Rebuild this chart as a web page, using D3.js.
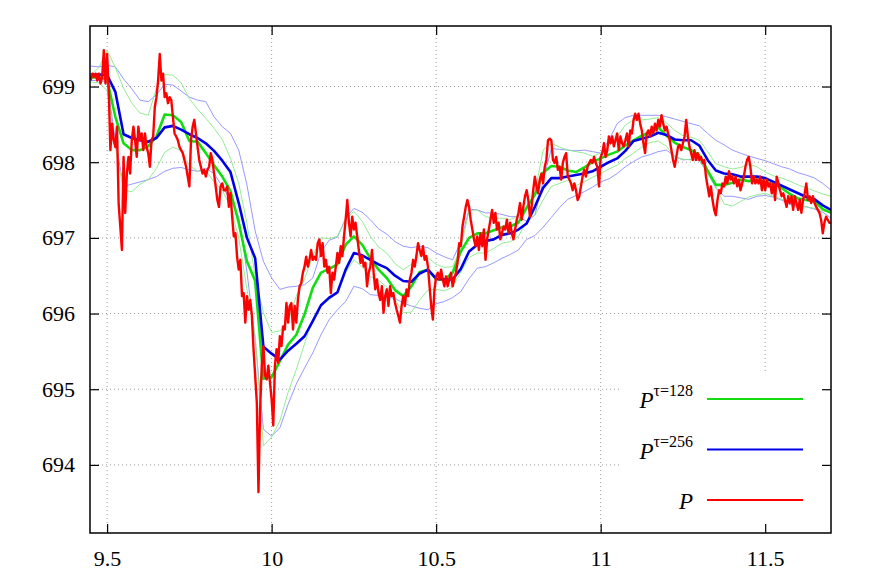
<!DOCTYPE html>
<html>
<head>
<meta charset="utf-8">
<script src="https://cdn.jsdelivr.net/npm/d3@7.9.0/dist/d3.min.js"></script>
<style>
  body { margin: 0; background: #fff; }
  svg { display: block; }
  svg text { font-family: "Liberation Serif", "DejaVu Serif", serif; }
</style>
</head>
<body>
<svg id="chart" width="872" height="580"></svg>
<script>
// tick values
const xTicks = [9.5, 10, 10.5, 11, 11.5];
const yTicks = [694, 695, 696, 697, 698, 699];

// price P, one value every 0.005 from 9.45
const priceStart = 9.45, priceStep = 0.005;
const price = [
  699.08, 699.17, 699.13, 699.17, 699.08, 699.17, 699.04, 699.13, 699.48, 699.04,
  699.43, 698.95, 698.16, 698.51, 698.29, 698.20, 698.47, 697.46, 697.15, 696.84,
  698.07, 697.33, 697.85, 698.07, 697.85, 698.29, 698.47, 698.29, 698.07, 698.47,
  698.29, 698.38, 698.16, 698.38, 698.20, 698.12, 697.94, 698.29, 698.34, 698.73,
  698.86, 699.08, 699.43, 699.08, 699.17, 698.86, 698.91, 698.78, 698.86, 698.82,
  698.60, 698.38, 698.34, 698.29, 698.20, 698.16, 698.12, 698.03, 697.94, 697.81,
  697.68, 698.29, 698.47, 698.56, 698.38, 698.20, 698.03, 697.94, 697.85, 697.90,
  697.81, 697.90, 697.94, 698.12, 698.03, 697.85, 697.68, 697.50, 697.41, 697.68,
  697.72, 697.63, 697.63, 697.68, 697.41, 697.59, 697.28, 697.02, 697.06, 696.75,
  696.58, 696.71, 696.23, 696.27, 695.88, 696.23, 696.05, 696.18, 695.97, 695.53,
  695.18, 694.82, 693.64, 694.74, 695.31, 695.57, 695.18, 695.13, 695.31, 695.09,
  694.87, 694.52, 695.31, 695.53, 695.35, 695.70, 695.57, 695.83, 695.79, 696.14,
  695.88, 696.10, 696.14, 695.79, 696.10, 695.88, 696.19, 696.36, 696.40, 696.54,
  696.62, 696.75, 696.62, 696.71, 696.84, 696.71, 696.75, 696.71, 696.93, 696.98,
  696.76, 696.93, 696.62, 696.71, 696.54, 696.62, 696.27, 696.54, 696.45, 696.62,
  696.80, 696.67, 696.89, 696.76, 697.02, 697.24, 697.50, 697.20, 697.02, 697.28,
  697.11, 697.20, 697.02, 696.84, 696.67, 696.76, 696.62, 696.67, 696.36, 696.54,
  696.62, 696.84, 696.54, 696.32, 696.45, 696.27, 696.18, 696.36, 696.01, 696.23,
  696.32, 696.10, 696.36, 696.23, 696.27, 696.14, 696.05, 695.97, 695.88, 696.10,
  696.23, 696.10, 696.32, 696.23, 696.45, 696.54, 696.71, 696.62, 696.76, 696.93,
  696.84, 696.76, 696.89, 696.71, 696.76, 696.62, 696.36, 696.10, 695.92, 696.32,
  696.49, 696.54, 696.45, 696.58, 696.45, 696.36, 696.49, 696.36, 696.45, 696.54,
  696.36, 696.45, 696.54, 696.67, 696.93, 696.89, 697.15, 697.28, 697.41, 697.50,
  697.41, 697.24, 697.11, 696.98, 696.89, 697.02, 696.84, 697.06, 696.89, 697.11,
  696.71, 696.98, 697.11, 697.24, 697.37, 697.20, 697.33, 697.11, 697.20, 696.98,
  697.06, 697.15, 697.11, 697.24, 697.06, 697.20, 697.06, 696.98, 697.11, 697.24,
  697.33, 697.46, 697.24, 697.41, 697.55, 697.63, 697.50, 697.28, 697.41, 697.63,
  697.81, 697.68, 697.59, 697.77, 697.85, 697.72, 697.94, 698.03, 698.29, 698.31,
  698.29, 698.03, 697.99, 698.07, 697.90, 697.94, 697.77, 697.99, 698.07, 698.12,
  697.81, 697.77, 697.72, 697.63, 697.72, 697.63, 697.50, 697.55, 697.68, 697.81,
  697.90, 697.81, 697.94, 697.99, 698.03, 697.99, 698.07, 697.99, 697.94, 697.68,
  698.07, 698.12, 698.25, 698.07, 698.16, 698.34, 698.25, 698.34, 698.21, 698.29,
  698.38, 698.16, 698.34, 698.25, 698.21, 698.29, 698.38, 698.21, 698.42, 698.38,
  698.56, 698.64, 698.56, 698.64, 698.51, 698.42, 698.25, 698.12, 698.38, 698.42,
  698.34, 698.47, 698.38, 698.51, 698.42, 698.56, 698.47, 698.62, 698.51, 698.42,
  698.47, 698.38, 698.29, 698.16, 698.03, 697.94, 698.07, 698.20, 698.23, 698.16,
  698.25, 698.34, 698.56, 698.34, 698.20, 698.12, 698.03, 698.16, 698.03, 698.12,
  698.03, 698.07, 697.99, 698.03, 697.81, 697.68, 697.55, 697.68, 697.50, 697.37,
  697.30, 697.50, 697.63, 697.59, 697.72, 697.68, 697.81, 697.72, 697.88, 697.77,
  697.81, 697.72, 697.81, 697.68, 697.77, 697.63, 697.72, 697.81, 697.94, 698.03,
  698.07, 697.94, 697.72, 697.81, 697.72, 697.77, 697.72, 697.81, 697.63, 697.77,
  697.63, 697.77, 697.68, 697.72, 697.59, 697.72, 697.50, 697.81, 697.72, 697.63,
  697.55, 697.59, 697.50, 697.41, 697.55, 697.46, 697.55, 697.37, 697.55, 697.46,
  697.37, 697.50, 697.33, 697.50, 697.59, 697.72, 697.50, 697.55, 697.46, 697.55,
  697.46, 697.41, 697.37, 697.33, 697.24, 697.06, 697.20, 697.28, 697.24, 697.20,
  697.20
];

// averages and bands, one value every 0.025 from 9.45
const avgStart = 9.45, avgStep = 0.025;
const ema128 = [
  699.12, 699.12, 699.09, 698.60, 698.25, 698.16, 698.16, 698.21, 698.34, 698.63,
  698.62, 698.53, 698.28, 698.27, 698.12, 697.96, 697.81, 697.62, 697.20, 696.69,
  696.43, 695.14, 695.16, 695.37, 695.59, 695.72, 695.99, 696.34, 696.54, 696.59,
  696.65, 696.91, 697.02, 696.91, 696.73, 696.58, 696.47, 696.31, 696.23, 696.36,
  696.55, 696.58, 696.45, 696.45, 696.54, 696.82, 697.00, 697.06, 697.06, 697.10,
  697.14, 697.15, 697.20, 697.40, 697.57, 697.86, 697.95, 697.94, 697.89, 697.87,
  697.93, 698.00, 698.05, 698.10, 698.14, 698.22, 698.29, 698.35, 698.40, 698.46,
  698.35, 698.26, 698.20, 698.16, 698.09, 697.89, 697.70, 697.70, 697.73, 697.77,
  697.75, 697.77, 697.74, 697.71, 697.66, 697.58, 697.52, 697.50, 697.48, 697.38,
  697.33
];
const ema256 = [
  699.16, 699.16, 699.15, 698.93, 698.37, 698.32, 698.29, 698.27, 698.32, 698.46,
  698.48, 698.43, 698.37, 698.32, 698.25, 698.15, 698.02, 697.87, 697.46, 697.00,
  696.73, 695.56, 695.47, 695.39, 695.51, 695.60, 695.70, 695.90, 696.11, 696.21,
  696.28, 696.58, 696.80, 696.77, 696.71, 696.65, 696.60, 696.50, 696.43, 696.42,
  696.53, 696.58, 696.46, 696.45, 696.45, 696.59, 696.82, 696.91, 696.96, 696.98,
  697.04, 697.06, 697.11, 697.19, 697.41, 697.66, 697.79, 697.79, 697.81, 697.83,
  697.85, 697.88, 697.94, 698.00, 698.05, 698.15, 698.28, 698.31, 698.34, 698.39,
  698.36, 698.30, 698.29, 698.29, 698.22, 698.03, 697.89, 697.85, 697.84, 697.81,
  697.81, 697.81, 697.79, 697.74, 697.69, 697.64, 697.59, 697.54, 697.51, 697.43,
  697.37
];
const upper128 = [
  699.15, 699.25, 699.48, 699.25, 698.98, 698.78, 698.65, 698.62, 698.98, 699.16,
  699.15, 699.05, 698.84, 698.70, 698.58, 698.45, 698.30, 698.05, 697.72, 697.19,
  696.49, 696.01, 695.75, 695.77, 695.90, 696.23, 696.46, 696.76, 697.00, 696.99,
  697.02, 697.24, 697.35, 697.22, 697.02, 696.88, 696.80, 696.66, 696.58, 696.65,
  696.78, 696.74, 696.65, 696.61, 696.62, 696.87, 697.36, 697.37, 697.28, 697.26,
  697.26, 697.24, 697.29, 697.37, 697.59, 698.16, 698.25, 698.20, 698.16, 698.14,
  698.12, 698.08, 698.12, 698.21, 698.34, 698.49, 698.56, 698.56, 698.57, 698.59,
  698.52, 698.42, 698.35, 698.33, 698.29, 698.14, 697.98, 697.94, 697.91, 697.93,
  697.97, 697.94, 697.87, 697.82, 697.79, 697.75, 697.70, 697.66, 697.62, 697.58,
  697.55
];
const lower128 = [
  699.06, 699.05, 698.95, 698.20, 697.63, 697.61, 697.71, 697.77, 697.92, 698.13,
  698.20, 698.15, 697.96, 697.88, 697.89, 697.74, 697.63, 697.41, 697.00, 696.32,
  695.70, 694.25, 694.37, 694.58, 694.96, 695.26, 695.60, 695.93, 696.12, 696.18,
  696.27, 696.54, 696.71, 696.62, 696.49, 696.44, 696.35, 696.18, 696.01, 696.02,
  696.18, 696.31, 696.32, 696.30, 696.35, 696.55, 696.74, 696.80, 696.80, 696.86,
  696.93, 696.95, 697.02, 697.22, 697.30, 697.50, 697.68, 697.72, 697.76, 697.69,
  697.74, 697.80, 697.85, 697.91, 697.96, 698.05, 698.12, 698.20, 698.26, 698.28,
  698.21, 698.07, 698.04, 698.03, 698.03, 697.85, 697.68, 697.45, 697.42, 697.48,
  697.54, 697.57, 697.59, 697.55, 697.51, 697.47, 697.42, 697.41, 697.39, 697.36,
  697.33
];
const upper256 = [
  699.27, 699.26, 699.28, 699.26, 699.10, 698.97, 698.82, 698.80, 698.89, 699.03,
  699.02, 698.94, 698.86, 698.82, 698.80, 698.60, 698.47, 698.38, 698.16, 697.70,
  697.09, 696.69, 696.47, 696.32, 696.35, 696.36, 696.38, 696.47, 696.81, 696.97,
  697.01, 697.26, 697.39, 697.34, 697.24, 697.12, 697.05, 696.95, 696.89, 696.87,
  696.89, 696.87, 696.80, 696.75, 696.71, 696.95, 697.38, 697.37, 697.33, 697.33,
  697.31, 697.28, 697.28, 697.22, 697.30, 697.75, 698.18, 698.17, 698.16, 698.15,
  698.16, 698.14, 698.12, 698.29, 698.51, 698.59, 698.62, 698.62, 698.62, 698.62,
  698.60, 698.57, 698.54, 698.51, 698.48, 698.38, 698.29, 698.23, 698.16, 698.12,
  698.08, 698.05, 698.02, 697.98, 697.94, 697.91, 697.86, 697.83, 697.79, 697.72,
  697.63
];
const lower256 = [
  699.08, 699.08, 699.06, 698.29, 697.68, 697.71, 697.74, 697.77, 697.81, 697.88,
  697.92, 697.93, 697.90, 697.88, 697.92, 697.85, 697.68, 697.50, 697.28, 696.55,
  695.66, 694.47, 694.38, 694.49, 694.80, 695.07, 695.28, 695.48, 695.72, 695.92,
  696.05, 696.16, 696.36, 696.33, 696.25, 696.24, 696.22, 696.20, 696.14, 696.10,
  696.07, 696.05, 696.13, 696.16, 696.21, 696.29, 696.46, 696.60, 696.62, 696.67,
  696.73, 696.78, 696.84, 696.98, 697.03, 697.14, 697.27, 697.40, 697.51, 697.56,
  697.61, 697.67, 697.74, 697.78, 697.85, 697.94, 698.01, 698.07, 698.10, 698.14,
  698.16, 698.08, 698.03, 698.04, 698.02, 697.86, 697.66, 697.55, 697.55, 697.53,
  697.51, 697.55, 697.56, 697.54, 697.50, 697.44, 697.42, 697.41, 697.38, 697.34,
  697.26
];

const W = 872, H = 580;
const margin = { top: 26, right: 41, bottom: 47, left: 90 };

const svg = d3.select('#chart');

let x = d3.scaleLinear().domain([9.448, 11.7]).range([margin.left, W - margin.right]);
let y = d3.scaleLinear().domain([693.1, 699.8]).range([H - margin.bottom, margin.top]);

// dotted grid
let grid = svg.append('g')
  .attr('stroke', '#9a9a9a')
  .attr('stroke-width', 1)
  .attr('stroke-dasharray', '1,3');
xTicks.forEach(t => {
  grid.append('line')
    .attr('x1', x(t)).attr('x2', x(t))
    .attr('y1', margin.top).attr('y2', H - margin.bottom);
});
yTicks.forEach(t => {
  grid.append('line')
    .attr('x1', margin.left).attr('x2', W - margin.right)
    .attr('y1', y(t)).attr('y2', y(t));
});

svg.append('clipPath').attr('id', 'plot-clip')
  .append('rect')
  .attr('x', margin.left).attr('y', margin.top)
  .attr('width', W - margin.left - margin.right)
  .attr('height', H - margin.top - margin.bottom);

let plot = svg.append('g').attr('clip-path', 'url(#plot-clip)');

function drawSeries(values, t0, step, color, width) {
  let line = d3.line()
    .x((d, i) => x(t0 + i * step))
    .y(d => y(d));
  plot.append('path')
    .attr('d', line(values))
    .attr('fill', 'none')
    .attr('stroke', color)
    .attr('stroke-width', width)
    .attr('stroke-linejoin', 'round');
}

// thin bands first, then the averages, price on top
drawSeries(upper256, avgStart, avgStep, '#8c8cff', 0.9);
drawSeries(lower256, avgStart, avgStep, '#8c8cff', 0.9);
drawSeries(upper128, avgStart, avgStep, '#86ec86', 0.9);
drawSeries(lower128, avgStart, avgStep, '#86ec86', 0.9);
drawSeries(ema128, avgStart, avgStep, '#11dd11', 2.6);
drawSeries(ema256, avgStart, avgStep, '#0000e8', 2.6);
drawSeries(price, priceStart, priceStep, '#ff0000', 2.4);

// legend (opaque box)
svg.append('rect')
  .attr('x', 622).attr('y', 373)
  .attr('width', W - margin.right - 622)
  .attr('height', H - margin.bottom - 373)
  .attr('fill', '#fff');

let legendItems = [
  { sup: 'τ=128', color: '#11dd11' },
  { sup: 'τ=256', color: '#0000e8' },
  { sup: '', color: '#ff0000' },
];
legendItems.forEach((d, i) => {
  let ly = 399 + i * 50.5;
  svg.append('line')
    .attr('x1', 707).attr('x2', 803)
    .attr('y1', ly).attr('y2', ly)
    .attr('stroke', d.color)
    .attr('stroke-width', 2.2);
  let txt = svg.append('text')
    .attr('x', 693).attr('y', ly + 9)
    .attr('text-anchor', 'end')
    .attr('fill', '#000');
  txt.append('tspan')
    .attr('font-style', 'italic')
    .attr('font-size', 23)
    .text('P');
  if (d.sup) {
    txt.append('tspan')
      .attr('font-size', 16)
      .attr('dy', -12)
      .text(d.sup);
  }
});

// axes with inward ticks on all four sides
svg.append('g')
  .attr('transform', `translate(0,${H - margin.bottom})`)
  .call(d3.axisBottom(x).tickValues(xTicks).tickSize(-9).tickPadding(17).tickFormat(d => d));
svg.append('g')
  .attr('transform', `translate(${margin.left},0)`)
  .call(d3.axisLeft(y).tickValues(yTicks).tickSize(-9).tickPadding(15).tickFormat(d => d));
svg.append('g')
  .attr('transform', `translate(0,${margin.top})`)
  .call(d3.axisTop(x).tickValues(xTicks).tickSize(-9).tickFormat(''));
svg.append('g')
  .attr('transform', `translate(${W - margin.right},0)`)
  .call(d3.axisRight(y).tickValues(yTicks).tickSize(-9).tickFormat(''));

svg.selectAll('.domain').remove();
svg.selectAll('.tick line').attr('stroke', '#000').attr('stroke-width', 1.2);
svg.selectAll('.tick text')
  .style('font-family', '"Liberation Serif", "DejaVu Serif", serif')
  .style('font-size', '22px')
  .attr('fill', '#000');

svg.append('rect')
  .attr('x', margin.left).attr('y', margin.top)
  .attr('width', W - margin.left - margin.right)
  .attr('height', H - margin.top - margin.bottom)
  .attr('fill', 'none')
  .attr('stroke', '#000')
  .attr('stroke-width', 1.5);
</script>
</body>
</html>
